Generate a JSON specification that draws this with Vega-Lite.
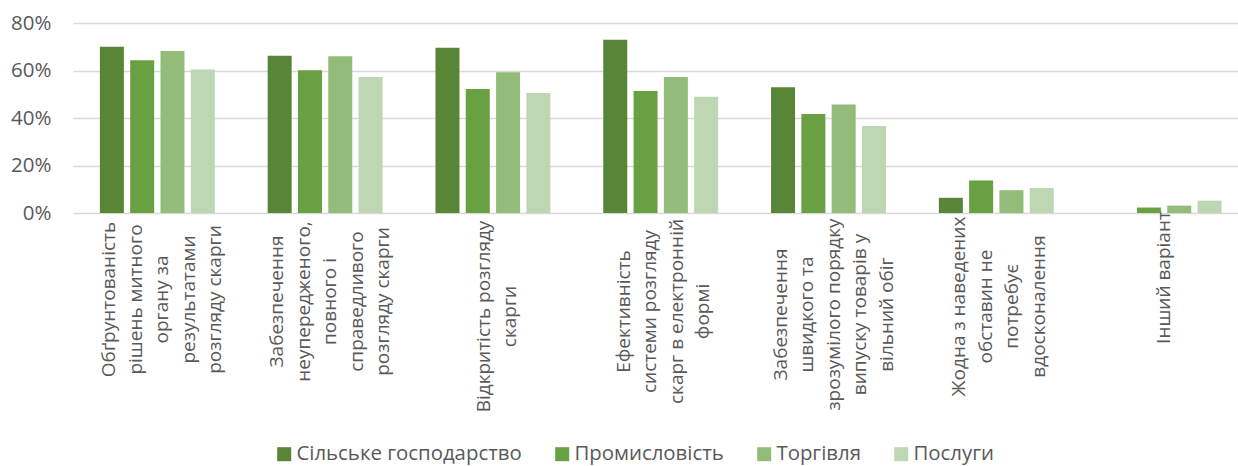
{
  "$schema": "https://vega.github.io/schema/vega-lite/v6.json",
  "width": 1165,
  "height": 190,
  "autosize": "none",
  "padding": {"left": 73, "top": 23, "right": 0, "bottom": 253},
  "background": "white",
  "config": {"view": {"stroke": null}, "font": "Open Sans"},
  "data": {
    "values": [
      {"category": "Обґрунтованість рішень митного органу за результатами розгляду скарги", "sector": "Сільське господарство", "value": 0.70},
      {"category": "Обґрунтованість рішень митного органу за результатами розгляду скарги", "sector": "Промисловість", "value": 0.643},
      {"category": "Обґрунтованість рішень митного органу за результатами розгляду скарги", "sector": "Торгівля", "value": 0.682},
      {"category": "Обґрунтованість рішень митного органу за результатами розгляду скарги", "sector": "Послуги", "value": 0.604},
      {"category": "Забезпечення неупередженого, повного і справедливого розгляду скарги", "sector": "Сільське господарство", "value": 0.662},
      {"category": "Забезпечення неупередженого, повного і справедливого розгляду скарги", "sector": "Промисловість", "value": 0.601},
      {"category": "Забезпечення неупередженого, повного і справедливого розгляду скарги", "sector": "Торгівля", "value": 0.66},
      {"category": "Забезпечення неупередженого, повного і справедливого розгляду скарги", "sector": "Послуги", "value": 0.573},
      {"category": "Відкритість розгляду скарги", "sector": "Сільське господарство", "value": 0.696},
      {"category": "Відкритість розгляду скарги", "sector": "Промисловість", "value": 0.522},
      {"category": "Відкритість розгляду скарги", "sector": "Торгівля", "value": 0.593},
      {"category": "Відкритість розгляду скарги", "sector": "Послуги", "value": 0.505},
      {"category": "Ефективність системи розгляду скарг в електронній формі", "sector": "Сільське господарство", "value": 0.73},
      {"category": "Ефективність системи розгляду скарг в електронній формі", "sector": "Промисловість", "value": 0.514},
      {"category": "Ефективність системи розгляду скарг в електронній формі", "sector": "Торгівля", "value": 0.573},
      {"category": "Ефективність системи розгляду скарг в електронній формі", "sector": "Послуги", "value": 0.489},
      {"category": "Забезпечення швидкого та зрозумілого порядку випуску товарів у вільний обіг", "sector": "Сільське господарство", "value": 0.53},
      {"category": "Забезпечення швидкого та зрозумілого порядку випуску товарів у вільний обіг", "sector": "Промисловість", "value": 0.417},
      {"category": "Забезпечення швидкого та зрозумілого порядку випуску товарів у вільний обіг", "sector": "Торгівля", "value": 0.457},
      {"category": "Забезпечення швидкого та зрозумілого порядку випуску товарів у вільний обіг", "sector": "Послуги", "value": 0.366},
      {"category": "Жодна з наведених обставин не потребує вдосконалення", "sector": "Сільське господарство", "value": 0.064},
      {"category": "Жодна з наведених обставин не потребує вдосконалення", "sector": "Промисловість", "value": 0.137},
      {"category": "Жодна з наведених обставин не потребує вдосконалення", "sector": "Торгівля", "value": 0.096},
      {"category": "Жодна з наведених обставин не потребує вдосконалення", "sector": "Послуги", "value": 0.105},
      {"category": "Інший варіант", "sector": "Промисловість", "value": 0.023},
      {"category": "Інший варіант", "sector": "Торгівля", "value": 0.031},
      {"category": "Інший варіант", "sector": "Послуги", "value": 0.052}
    ]
  },
  "mark": {"type": "bar"},
  "encoding": {
    "x": {
      "field": "category",
      "type": "nominal",
      "sort": null,
      "title": null,
      "scale": {
        "domain": [
          "Обґрунтованість рішень митного органу за результатами розгляду скарги",
          "Забезпечення неупередженого, повного і справедливого розгляду скарги",
          "Відкритість розгляду скарги",
          "Ефективність системи розгляду скарг в електронній формі",
          "Забезпечення швидкого та зрозумілого порядку випуску товарів у вільний обіг",
          "Жодна з наведених обставин не потребує вдосконалення",
          "Інший варіант"
        ],
        "paddingInner": 0.279,
        "paddingOuter": 0.111,
        "align": 0.64
      },
      "axis": {
        "domain": false,
        "ticks": false,
        "labelAngle": -90,
        "labelAlign": "center",
        "labelBaseline": "middle",
        "labelFont": "Open Sans",
        "labelFontSize": 19,
        "labelColor": "#595959",
        "labelLineHeight": 26.5,
        "labelLimit": 400,
        "labelOverlap": false,
        "labelPadding": {
          "condition": [
            {"test": "datum.value === 'Відкритість розгляду скарги'", "value": 103},
            {"test": "datum.value === 'Ефективність системи розгляду скарг в електронній формі'", "value": 98},
            {"test": "datum.value === 'Забезпечення швидкого та зрозумілого порядку випуску товарів у вільний обіг'", "value": 101},
            {"test": "datum.value === 'Жодна з наведених обставин не потребує вдосконалення'", "value": 93},
            {"test": "datum.value === 'Інший варіант'", "value": 64},
            {"test": "datum.value === 'Забезпечення неупередженого, повного і справедливого розгляду скарги'", "value": 88}
          ],
          "value": 86
        },
        "labelOffset": {
          "condition": [
            {"test": "datum.value === 'Відкритість розгляду скарги'", "value": -9},
            {"test": "datum.value === 'Ефективність системи розгляду скарг в електронній формі'", "value": -37},
            {"test": "datum.value === 'Жодна з наведених обставин не потребує вдосконалення'", "value": -37},
            {"test": "datum.value === 'Інший варіант'", "value": 0}
          ],
          "value": -48
        },
        "labelExpr": "datum.value === 'Обґрунтованість рішень митного органу за результатами розгляду скарги' ? ['Обґрунтованість', 'рішень митного', 'органу за', 'результатами', 'розгляду скарги'] : datum.value === 'Забезпечення неупередженого, повного і справедливого розгляду скарги' ? ['Забезпечення', 'неупередженого,', 'повного і', 'справедливого', 'розгляду скарги'] : datum.value === 'Відкритість розгляду скарги' ? ['Відкритість розгляду', 'скарги'] : datum.value === 'Ефективність системи розгляду скарг в електронній формі' ? ['Ефективність', 'системи розгляду', 'скарг в електронній', 'формі'] : datum.value === 'Забезпечення швидкого та зрозумілого порядку випуску товарів у вільний обіг' ? ['Забезпечення', 'швидкого та', 'зрозумілого порядку', 'випуску товарів у', 'вільний обіг'] : datum.value === 'Жодна з наведених обставин не потребує вдосконалення' ? ['Жодна з наведених', 'обставин не', 'потребує', 'вдосконалення'] : datum.value"
      }
    },
    "xOffset": {
      "field": "sector",
      "type": "nominal",
      "sort": null,
      "scale": {
        "domain": ["Сільське господарство", "Промисловість", "Торгівля", "Послуги"],
        "paddingInner": 0.208,
        "paddingOuter": 0.1
      }
    },
    "y": {
      "field": "value",
      "type": "quantitative",
      "title": null,
      "scale": {"domain": [0, 0.8], "nice": false},
      "axis": {
        "values": [0, 0.2, 0.4, 0.6, 0.8],
        "format": ".0%",
        "domain": false,
        "ticks": false,
        "labelFont": "Open Sans",
        "labelFontSize": 20.5,
        "labelColor": "#595959",
        "labelPadding": 22,
        "gridColor": "#d9d9d9",
        "gridWidth": 1.5
      }
    },
    "color": {
      "field": "sector",
      "type": "nominal",
      "sort": null,
      "title": null,
      "scale": {
        "domain": ["Сільське господарство", "Промисловість", "Торгівля", "Послуги"],
        "range": ["#588636", "#69a042", "#93bb7a", "#bed6b2"]
      },
      "legend": {
        "orient": "none",
        "direction": "horizontal",
        "legendX": 201,
        "legendY": 421,
        "columns": 4,
        "gridAlign": "none",
        "columnPadding": 30,
        "symbolType": "square",
        "symbolSize": 196,
        "symbolStrokeWidth": 0,
        "labelOffset": 2,
        "labelFont": "Open Sans",
        "labelFontSize": 20.4,
        "labelColor": "#595959",
        "labelLimit": 400
      }
    }
  }
}
